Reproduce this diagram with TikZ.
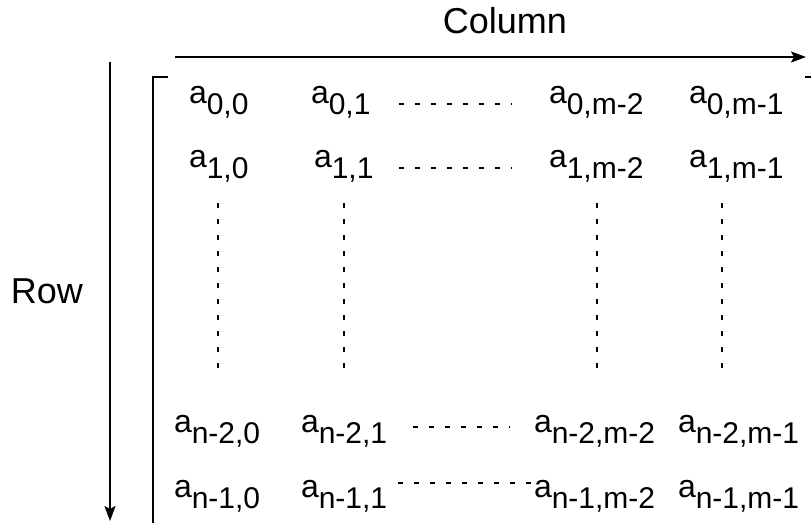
\documentclass[tikz,border=0pt]{standalone}
\usepackage{fontspec}
\setmainfont{Liberation Sans}
\usetikzlibrary{arrows.meta}
\newcommand{\elem}[1]{a\raisebox{-11pt}{\fontsize{30}{34}\selectfont #1}}
\begin{document}
\begin{tikzpicture}[x=1pt, y=-1pt, line width=2pt,
    lab/.style={font=\fontsize{36}{42}\selectfont, inner sep=0pt},
    ent/.style={anchor=base west, inner sep=0pt, font=\fontsize{32}{36}\selectfont},
    dots/.style={line width=2pt, dash pattern=on 5pt off 11pt},
    axis/.style={-{Stealth[length=15pt, width=11pt, inset=3pt]}}]
  \useasboundingbox (0,0) rectangle (811,523);
  % axis labels
  \node[lab] (col) at (505,21) {Column};
  \node[lab] (row) at (47,291) {Row};
  \coordinate (cs) at (175,57);
  \coordinate (ce) at (806,57);
  \coordinate (rs) at (110,62);
  \coordinate (re) at (110,521);
  \draw[axis] (cs) -- (ce);
  \draw[axis] (rs) -- (re);
  % bracket
  \coordinate (bl) at (153,523);
  \coordinate (bt) at (153,77);
  \coordinate (bc) at (168,77);
  \draw (bc) -- (bt) -- (bl);
  \coordinate (rt) at (805,77);
  \coordinate (rc) at (811,77);
  \draw (rt) -- (rc);
  % entries
  \foreach \r/\y/\xa/\xb/\xc/\xd/\ds/\de/\dy [count=\i] in {
      0/103/188/310/548/688/399/512/104,
      1/167/188/313/548/688/399/512/168,
      n-2/432/173/300/533/677/413/510/427,
      n-1/497/173/300/533/677/398/535/483} {
    \node[ent] (a\i0) at (\xa,\y) {\elem{\r,0}};
    \node[ent] (a\i1) at (\xb,\y) {\elem{\r,1}};
    \node[ent] (a\i2) at (\xc,\y) {\elem{\r,m-2}};
    \node[ent] (a\i3) at (\xd,\y) {\elem{\r,m-1}};
    \coordinate (h\i s) at (\ds,\dy);
    \coordinate (h\i e) at (\de,\dy);
    \draw[dots] (h\i s) -- (h\i e);
  }
  \foreach \x [count=\j] in {218,344,597,722} {
    \coordinate (v\j t) at (\x,203);
    \coordinate (v\j b) at (\x,370);
    \draw[dots] (v\j t) -- (v\j b);
  }
\end{tikzpicture}
\end{document}
